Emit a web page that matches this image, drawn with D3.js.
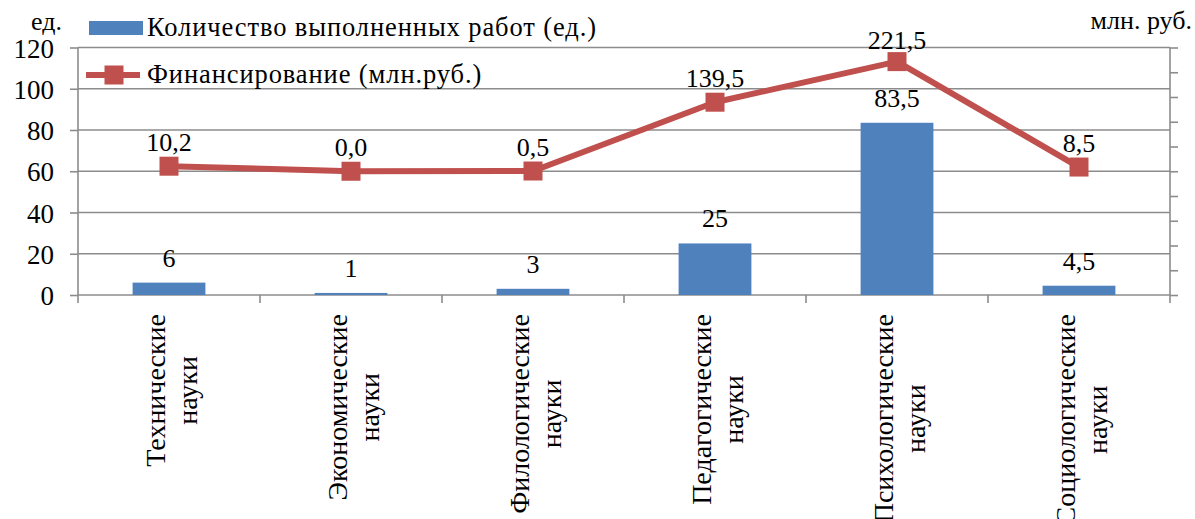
<!DOCTYPE html>
<html>
<head>
<meta charset="utf-8">
<script src="https://cdn.jsdelivr.net/npm/d3@7"></script>
<style>
  html, body { margin: 0; padding: 0; background: #fff; }
  svg { display: block; }
  text { font-family: "Liberation Serif", "Times New Roman", serif; fill: #000; }
</style>
</head>
<body>
<svg id="chart" width="1195" height="519"></svg>
<script>
// ---- data ----
const categories = ["Технические науки", "Экономические науки", "Филологические науки",
                    "Педагогические науки", "Психологические науки", "Социологические науки"];
const works = [6, 1, 3, 25, 83.5, 4.5];            // Количество выполненных работ (ед.)
const funding = [10.2, 0.0, 0.5, 139.5, 221.5, 8.5]; // Финансирование (млн.руб.)
const leftTicks = [0, 20, 40, 60, 80, 100, 120];
const rightTicks = [-250, -200, -150, -100, -50, 0, 50, 100, 150, 200, 250];
const seriesNames = ["Количество выполненных работ (ед.)", "Финансирование (млн.руб.)"];
const leftTitle = "ед.";
const rightTitle = "млн. руб.";

// ---- layout ----
const plot = { left: 78, right: 1170, top: 47.5, bottom: 295 };
const barColor = "#4F81BD", lineColor = "#C0504D", gridColor = "#8C8C8C";

const svg = d3.select("#chart");

const x = d3.scaleBand().domain(categories).range([plot.left, plot.right]).paddingInner(0.6).paddingOuter(0.3);
const xStep = d3.scaleBand().domain(categories).range([plot.left, plot.right]);
const y = d3.scaleLinear().domain([0, 120]).range([plot.bottom, plot.top]);
const y2 = d3.scaleLinear().domain([-250, 250]).range([plot.bottom, plot.top]);

const fmtComma = v => String(v).replace(".", ",");
const fmt1 = v => v.toFixed(1).replace(".", ",");

// left axis ticks + labels
const gLeft = svg.append("g").attr("transform", `translate(${plot.left},0)`)
  .call(d3.axisLeft(y).tickValues(leftTicks).tickSize(8).tickPadding(16).tickFormat(d => d));
gLeft.select(".domain").remove();
gLeft.selectAll(".tick line").attr("stroke", gridColor).attr("stroke-width", 1.6);
gLeft.selectAll(".tick text").attr("font-size", 27).attr("dy", "0.36em");

// gridlines
svg.append("g").selectAll("line").data(leftTicks).join("line")
  .attr("x1", plot.left).attr("x2", plot.right)
  .attr("y1", d => y(d)).attr("y2", d => y(d))
  .attr("stroke", gridColor).attr("stroke-width", 1.6);

// left axis line
svg.append("line").attr("x1", plot.left).attr("x2", plot.left)
  .attr("y1", plot.top).attr("y2", plot.bottom)
  .attr("stroke", gridColor).attr("stroke-width", 1.6);

// right axis (secondary, tick marks only)
const gRight = svg.append("g").attr("transform", `translate(${plot.right},0)`)
  .call(d3.axisRight(y2).tickValues(rightTicks).tickSize(8).tickFormat(""));
gRight.select(".domain").attr("stroke", gridColor).attr("stroke-width", 1.6).attr("d", `M0,${plot.top}V${plot.bottom}`);
gRight.selectAll(".tick line").attr("stroke", gridColor).attr("stroke-width", 1.6);

// category ticks at boundaries
const boundaries = categories.map(c => xStep(c)).concat([plot.right]);
svg.append("g").selectAll("line").data(boundaries).join("line")
  .attr("x1", d => d).attr("x2", d => d)
  .attr("y1", plot.bottom).attr("y2", plot.bottom + 8)
  .attr("stroke", gridColor).attr("stroke-width", 1.6);

// bars
svg.append("g").selectAll("rect").data(works).join("rect")
  .attr("x", (d, i) => x(categories[i]))
  .attr("width", x.bandwidth())
  .attr("y", d => y(d))
  .attr("height", d => plot.bottom - y(d))
  .attr("fill", barColor);

// bar labels
svg.append("g").selectAll("text").data(works).join("text")
  .attr("x", (d, i) => x(categories[i]) + x.bandwidth() / 2)
  .attr("y", d => y(d) - 16)
  .attr("text-anchor", "middle").attr("font-size", 26)
  .text(d => fmtComma(d));

// line
const cx = i => xStep(categories[i]) + xStep.bandwidth() / 2;
const line = d3.line().x((d, i) => cx(i)).y(d => y2(d));
svg.append("path").datum(funding).attr("d", line)
  .attr("fill", "none").attr("stroke", lineColor).attr("stroke-width", 6).attr("stroke-linejoin", "round");

// markers
const ms = 19;
svg.append("g").selectAll("rect").data(funding).join("rect")
  .attr("x", (d, i) => cx(i) - ms / 2).attr("y", d => y2(d) - ms / 2)
  .attr("width", ms).attr("height", ms)
  .attr("fill", lineColor);

// line labels
svg.append("g").selectAll("text").data(funding).join("text")
  .attr("x", (d, i) => cx(i))
  .attr("y", d => Math.max(y2(d) - 15, 49))
  .attr("text-anchor", "middle").attr("font-size", 26)
  .text(d => fmt1(d));

// category labels (rotated, two lines, centered on the longest line, aligned at top)
categories.forEach((c, i) => {
  const lines = c.split(" ");
  const g = svg.append("g").attr("transform", `translate(${cx(i)},314) rotate(-90)`);
  const ts = lines.map((l, k) => g.append("text")
      .attr("font-size", 28).attr("text-anchor", "middle")
      .attr("y", -4 + k * 32).text(l));
  const L = d3.max(ts, t => t.node().getComputedTextLength());
  ts.forEach(t => t.attr("x", -L / 2));
});

// axis titles
svg.append("text").attr("x", 62).attr("y", 30).attr("text-anchor", "end").attr("font-size", 26).text(leftTitle);
svg.append("text").attr("x", 1192).attr("y", 29).attr("text-anchor", "end").attr("font-size", 26).text(rightTitle);

// legend
const lg = svg.append("g");
lg.append("rect").attr("x", 89).attr("y", 21).attr("width", 54).attr("height", 14).attr("fill", barColor);
lg.append("text").attr("x", 147).attr("y", 36).attr("font-size", 26.5).attr("letter-spacing", 0.9).text(seriesNames[0]);
lg.append("line").attr("x1", 86).attr("x2", 140).attr("y1", 75).attr("y2", 75)
  .attr("stroke", lineColor).attr("stroke-width", 6);
lg.append("rect").attr("x", 114 - ms / 2).attr("y", 75 - ms / 2).attr("width", ms).attr("height", ms).attr("fill", lineColor);
lg.append("text").attr("x", 147).attr("y", 83).attr("font-size", 26.5).attr("letter-spacing", 0.9).text(seriesNames[1]);
</script>
</body>
</html>
